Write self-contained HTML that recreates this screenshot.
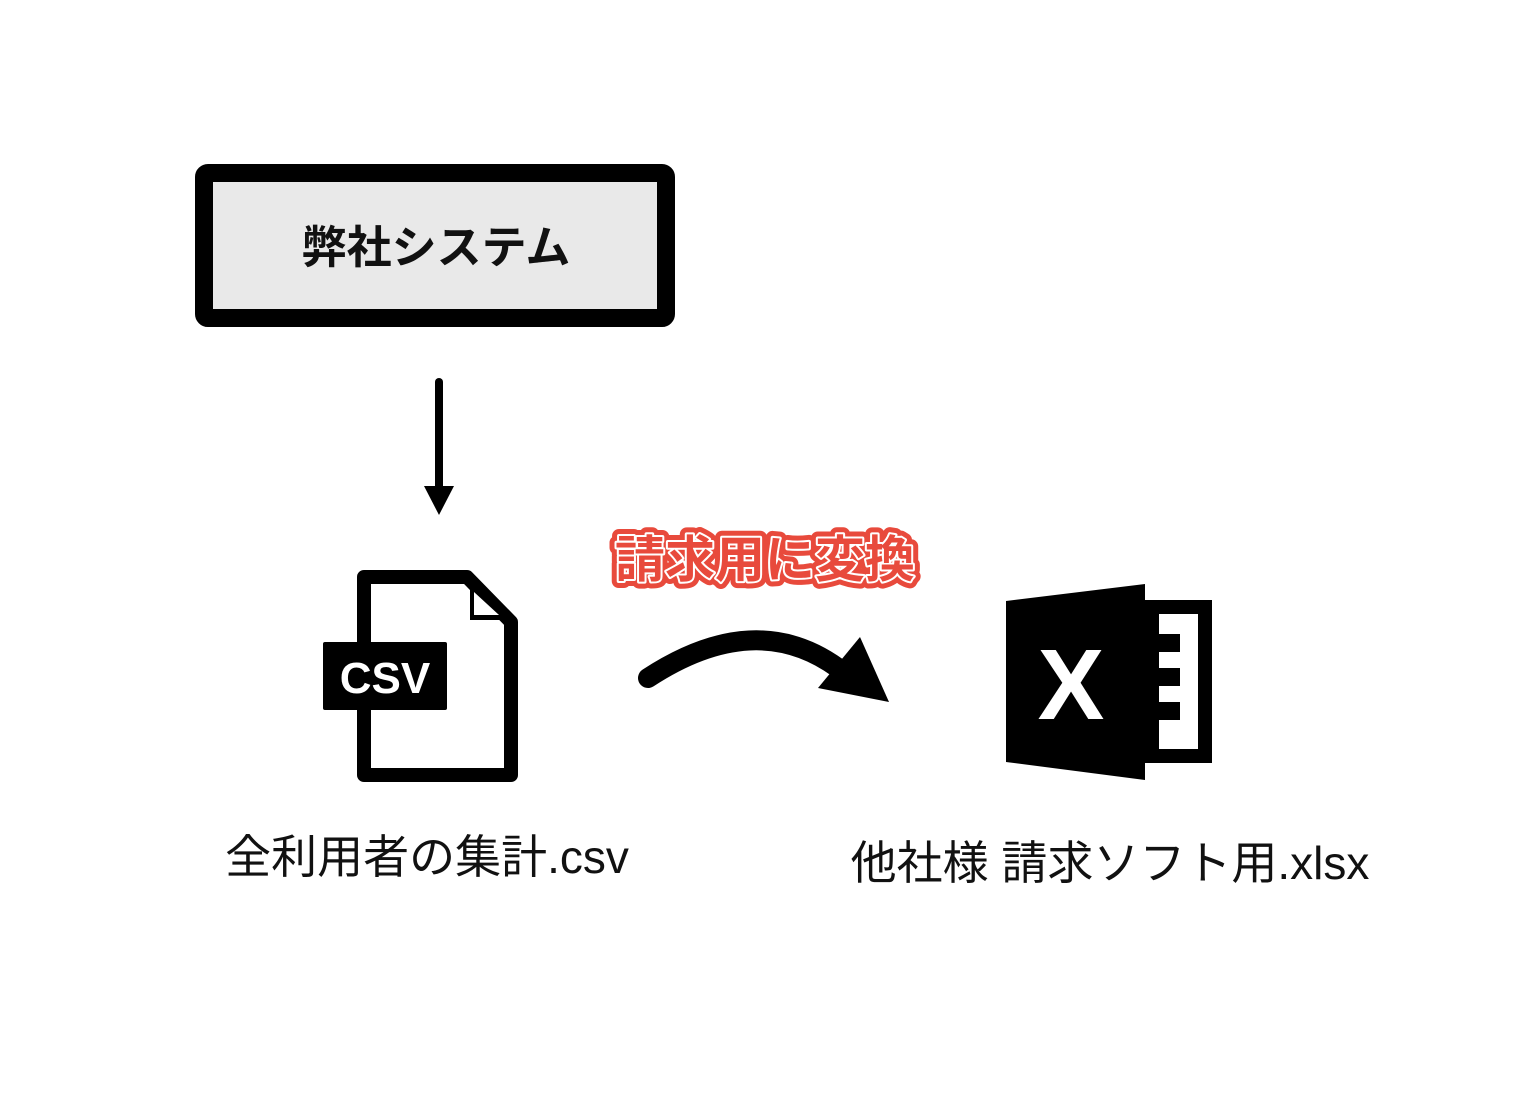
<!DOCTYPE html>
<html><head><meta charset="utf-8"><style>
html,body{margin:0;padding:0;background:#fff;}
body{width:1536px;height:1117px;position:relative;overflow:hidden;}
</style></head><body>
<svg width="1536" height="1117" viewBox="0 0 1536 1117" xmlns="http://www.w3.org/2000/svg" style="position:absolute;left:0;top:0">
<rect x="204" y="173" width="462" height="145" rx="4" fill="#e9e9e9" stroke="#000" stroke-width="18"/>
<text x="436" y="263" text-anchor="middle" font-family="Liberation Sans, Noto Sans CJK JP, sans-serif" font-size="45" font-weight="bold" fill="#111">弊社システム</text>
<line x1="439" y1="382" x2="439" y2="488" stroke="#000" stroke-width="8" stroke-linecap="round"/>
<polygon points="424,486 454,486 439,515" fill="#000"/>
<!-- CSV icon -->
<path d="M364,577 L467,577 L511,622 L511,775 L364,775 Z" fill="none" stroke="#000" stroke-width="14" stroke-linejoin="round"/>
<polygon points="470,583 470,620 506,620" fill="#000"/>
<polygon points="474,592 474,615 499,615" fill="#fff"/>
<rect x="323" y="642" width="124" height="68" rx="2" fill="#000"/>
<text x="385" y="693" text-anchor="middle" font-family="Liberation Sans, sans-serif" font-size="44" font-weight="bold" fill="#fff">CSV</text>
<!-- curved arrow -->
<path d="M648,678 Q755,608 838,668" fill="none" stroke="#000" stroke-width="20" stroke-linecap="round"/>
<polygon points="860,637 889,702 818,688" fill="#000"/>
<text x="765" y="577" text-anchor="middle" font-family="Liberation Sans, Noto Sans CJK JP, sans-serif" font-size="50" font-weight="bold" fill="#e84a3c" stroke="#e84a3c" stroke-width="14" stroke-linejoin="round">請求用に変換</text>
<text x="765" y="577" text-anchor="middle" font-family="Liberation Sans, Noto Sans CJK JP, sans-serif" font-size="50" font-weight="bold" fill="#fff" stroke="#fff" stroke-width="4" stroke-linejoin="round">請求用に変換</text>
<text x="765" y="577" text-anchor="middle" font-family="Liberation Sans, Noto Sans CJK JP, sans-serif" font-size="50" font-weight="bold" fill="#e84a3c">請求用に変換</text>
<!-- Excel icon -->
<rect x="1152" y="607" width="53" height="149" fill="none" stroke="#000" stroke-width="14"/>
<rect x="1158" y="634" width="22" height="18" fill="#000"/>
<rect x="1158" y="668" width="22" height="18" fill="#000"/>
<rect x="1158" y="702" width="22" height="18" fill="#000"/>
<polygon points="1006,601 1145,584 1145,780 1006,762" fill="#000"/>
<text x="1071" y="719" text-anchor="middle" font-family="Liberation Sans, sans-serif" font-size="100" font-weight="bold" fill="#fff">X</text>
<text x="427" y="873" text-anchor="middle" font-family="Liberation Sans, Noto Sans CJK JP, sans-serif" font-size="46" fill="#111">全利用者の集計.csv</text>
<text x="1110" y="879" text-anchor="middle" font-family="Liberation Sans, Noto Sans CJK JP, sans-serif" font-size="46" fill="#111">他社様 請求ソフト用.xlsx</text>
</svg>
</body></html>
